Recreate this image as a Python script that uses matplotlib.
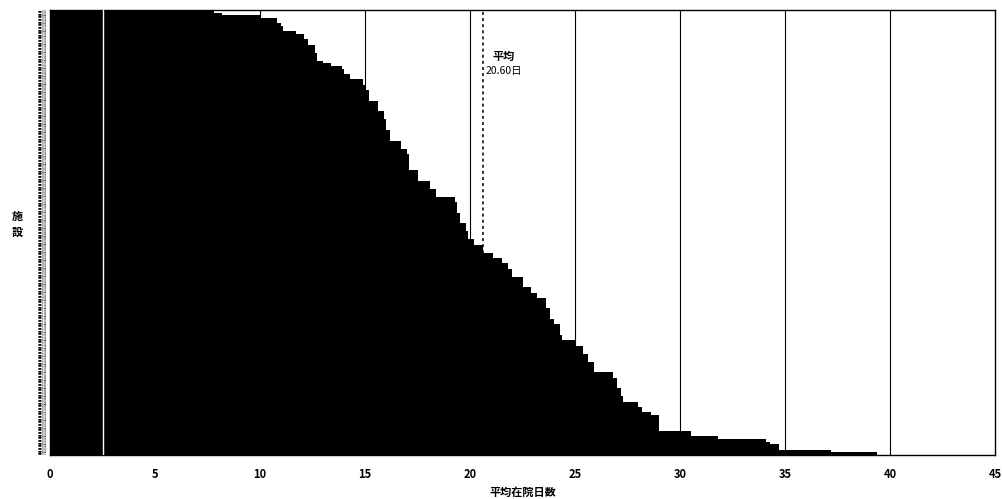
import matplotlib.pyplot as plt

plt.rcParams['font.family'] = ['Noto Sans CJK JP', 'DejaVu Sans']

# 平均在院日数 (facilities sorted from shortest, top, to longest, bottom)
days = [
    7.8, 8.2, 10.0, 10.8, 10.8, 11.0, 11.1, 11.1, 11.7, 12.1,
    12.1, 12.3, 12.3, 12.6, 12.6, 12.6, 12.7, 12.7, 12.7, 13.0,
    13.4, 13.9, 14.0, 14.0, 14.3, 14.3, 14.9, 14.9, 15.0, 15.0,
    15.2, 15.2, 15.2, 15.2, 15.6, 15.6, 15.6, 15.6, 15.9, 15.9,
    15.9, 16.0, 16.0, 16.0, 16.0, 16.2, 16.2, 16.2, 16.2, 16.7,
    16.7, 16.7, 17.0, 17.0, 17.1, 17.1, 17.1, 17.1, 17.1, 17.1,
    17.5, 17.5, 17.5, 17.5, 18.1, 18.1, 18.1, 18.4, 18.4, 18.4,
    19.3, 19.3, 19.4, 19.4, 19.4, 19.4, 19.5, 19.5, 19.5, 19.5,
    19.8, 19.8, 19.8, 19.9, 19.9, 19.9, 20.2, 20.2, 20.6, 20.6,
    20.6, 21.1, 21.1, 21.5, 21.5, 21.8, 21.8, 22.0, 22.0, 22.0,
    22.5, 22.5, 22.5, 22.5, 22.9, 22.9, 23.2, 23.2, 23.6, 23.6,
    23.6, 23.6, 23.8, 23.8, 23.8, 23.8, 24.0, 24.0, 24.3, 24.3,
    24.3, 24.3, 24.4, 24.4, 25.0, 25.0, 25.4, 25.4, 25.4, 25.6,
    25.6, 25.6, 25.9, 25.9, 25.9, 25.9, 26.8, 26.8, 27.0, 27.0,
    27.0, 27.0, 27.2, 27.2, 27.2, 27.3, 27.3, 28.0, 28.0, 28.2,
    28.2, 28.6, 29.0, 29.0, 29.0, 29.0, 29.0, 29.0, 30.5, 30.5,
    31.8, 34.1, 34.3, 34.7, 34.7, 37.2, 39.4,
]
facilities = ['施設%03d' % (i + 1) for i in range(len(days))]
average = 20.60
xticks = [0, 5, 10, 15, 20, 25, 30, 35, 40, 45]

fig = plt.figure(figsize=(10.03, 4.99), dpi=100)
ax = fig.add_axes([0.05, 0.088, 0.942, 0.892])

pos = range(len(days))
ax.barh(pos, days, height=1.0, color='black', linewidth=0, zorder=3)

# grid lines and the mean line sit behind the bars
for x in xticks[2:-1]:
    ax.axvline(x, color='black', lw=0.8, zorder=1)
ax.axvline(average, color='black', lw=1.1, ls=(0, (2, 2)), zorder=1)
# white streak through the bars in the scan
ax.axvline(2.5, color='white', lw=1.0, zorder=4)

ax.text(21.6, 17, '平均', ha='center', va='center', fontsize=8, fontweight='bold')
ax.text(21.6, 22.5, '%.2f日' % average, ha='center', va='center', fontsize=7.5)

ax.set_xlim(0, 45)
ax.set_ylim(len(days) - 0.5, -0.5)
ax.set_xticks(xticks)
ax.set_xticklabels([str(t) for t in xticks], fontsize=8, fontweight='bold')
ax.set_yticks(list(pos))
ax.set_yticklabels(facilities, fontsize=1.8)
ax.tick_params(axis='both', length=0)
ax.tick_params(axis='x', pad=9)
ax.tick_params(axis='y', pad=2)

for s in ax.spines.values():
    s.set_color('black')
    s.set_linewidth(1.0)

ax.set_xlabel('平均在院日数', fontsize=8, fontweight='bold', labelpad=4)
fig.text(0.017, 0.55, '施\n設', ha='center', va='center', fontsize=8,
         fontweight='bold', linespacing=1.3)

fig.savefig('out.png', dpi=100)
